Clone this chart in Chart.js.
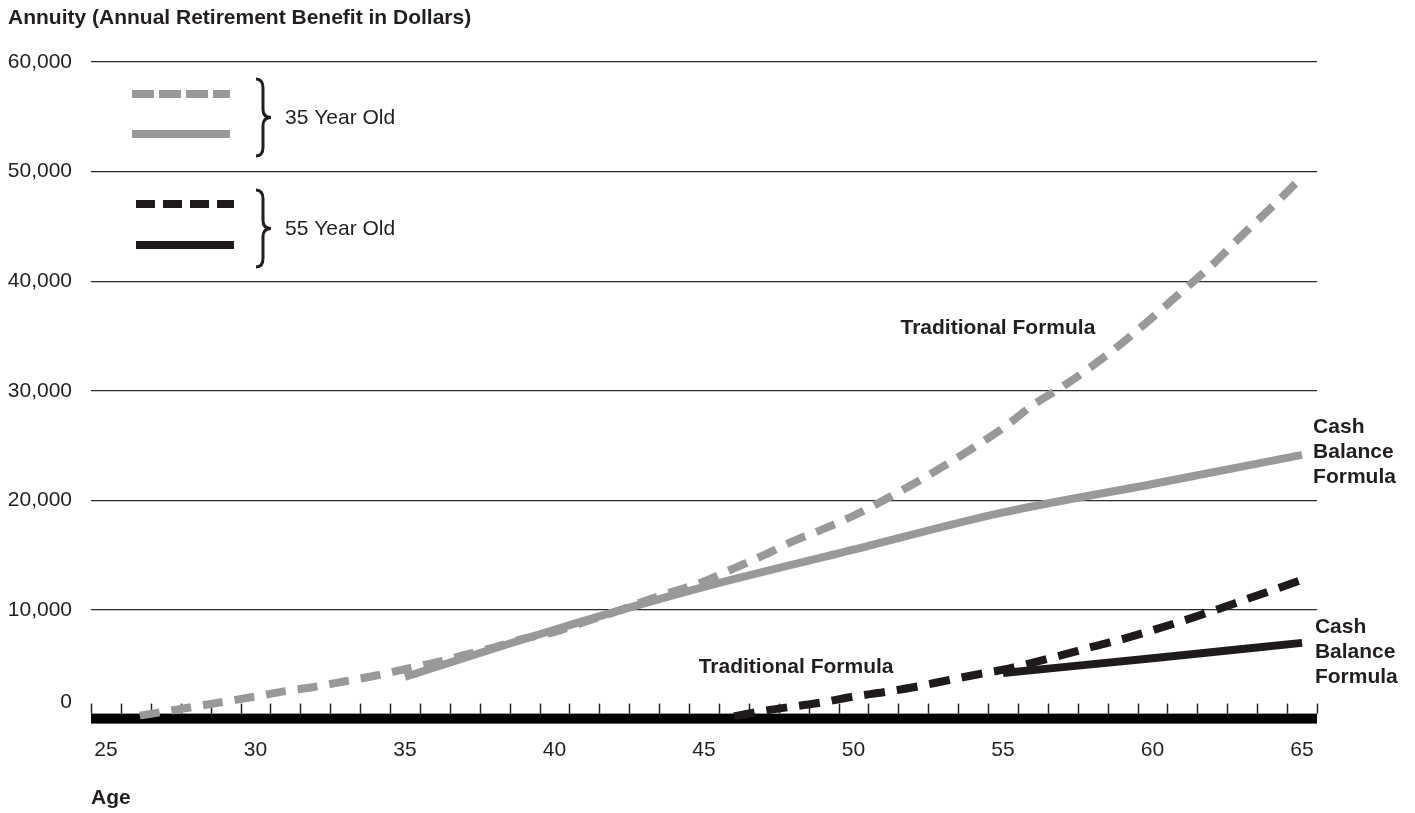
<!DOCTYPE html>
<html>
<head>
<meta charset="utf-8">
<script src="https://cdn.jsdelivr.net/npm/chart.js@4.4.0/dist/chart.umd.min.js"></script>
<style>
  html, body { margin: 0; padding: 0; background: #fff; }
  #annuityChart { display: block; }
</style>
</head>
<body>
<canvas id="annuityChart" width="1415" height="813"></canvas>
<script>
// Data
const xTickLabels = [25, 30, 35, 40, 45, 50, 55, 60, 65];
const yTickLabels = [0, 10000, 20000, 30000, 40000, 50000, 60000];

// 35 year old, traditional formula
const ages35Trad = [26, 27, 28, 29, 30, 31, 32, 33, 34, 35, 36, 37, 38, 39, 40, 41, 42, 43, 44, 45,
                    46, 47, 48, 49, 50, 51, 52, 53, 54, 55, 56, 57, 58, 59, 60, 61, 62, 63, 64, 65];
const vals35Trad = [300, 750, 1200, 1650, 2100, 2600, 3000, 3500, 4000, 4600, 5200, 5900, 6600, 7400, 8000, 8900, 9800, 10800, 11700, 12600,
                    13800, 15000, 16300, 17400, 18600, 20000, 21500, 23100, 24800, 26600, 28700, 30400, 32300, 34400, 36700, 39100, 41500, 44200, 46800, 49500];

// 35 year old, cash balance formula
const ages35Cash = [35, 40, 45, 50, 55, 60, 65];
const vals35Cash = [3900, 8200, 12100, 15500, 18900, 21500, 24150];

// 55 year old, traditional formula
const ages55Trad = [46, 47, 48, 49, 50, 51, 52, 53, 54, 55, 56, 57, 58, 59, 60, 61, 62, 63, 64, 65];
const vals55Trad = [300, 800, 1200, 1600, 2100, 2500, 2950, 3500, 4050, 4550, 5200, 5900, 6650, 7350, 8150, 9000, 9900, 10850, 11800, 12750];

// 55 year old, cash balance formula
const ages55Cash = [55, 60, 65];
const vals55Cash = [4250, 5600, 7000];

const GRAY = '#999999';
const BLACK = '#1f1b1c';
const INK = '#231f20';
const FONT = '"Liberation Sans", Arial, Helvetica, sans-serif';

function pts(xs, ys) {
    return xs.map((x, i) => ({ x: x, y: ys[i] }));
}

// Text notes placed in data units
const notes = [
    { lines: ['Traditional Formula'], age: 54.83, value: 35700, align: 'center' },
    { lines: ['Traditional Formula'], age: 48.08, value: 4800, align: 'center' },
    { lines: ['Cash', 'Balance', 'Formula'], age: 65.37, value: 26700, align: 'left' },
    { lines: ['Cash', 'Balance', 'Formula'], age: 65.43, value: 8450, align: 'left' }
];

// Baseline bar, minor ticks, title, zero label, legend and notes
const decorations = {
    id: 'decorations',
    beforeDatasetsDraw(chart) {
        const ctx = chart.ctx;
        const xs = chart.scales.x;
        const ys = chart.scales.y;
        const base = ys.getPixelForValue(0);
        const barTop = base - 6;
        ctx.save();
        ctx.fillStyle = '#000';
        ctx.fillRect(xs.left, barTop, xs.right - xs.left, 10);
        ctx.strokeStyle = INK;
        ctx.lineWidth = 1.5;
        for (let v = 24.5; v <= 65.5; v += 1) {
            const px = Math.round(xs.getPixelForValue(v)) + 0.5;
            ctx.beginPath();
            ctx.moveTo(px, barTop);
            ctx.lineTo(px, barTop - 10);
            ctx.stroke();
        }
        ctx.restore();
    },
    afterDraw(chart) {
        const ctx = chart.ctx;
        const xs = chart.scales.x;
        const ys = chart.scales.y;
        const ds = chart.data.datasets;
        ctx.save();
        ctx.fillStyle = INK;

        // axis title at top left
        ctx.font = 'bold 21px ' + FONT;
        ctx.textAlign = 'left';
        ctx.textBaseline = 'middle';
        ctx.fillText('Annuity (Annual Retirement Benefit in Dollars)', 8, 18);

        // zero label sits above the baseline bar
        ctx.font = '21px ' + FONT;
        ctx.textAlign = 'right';
        ctx.fillText('0', 72, ys.getPixelForValue(0) - 17);

        // legend
        const sample = (y, x0, x1, d) => {
            ctx.save();
            ctx.strokeStyle = d.borderColor;
            ctx.lineWidth = d.borderWidth;
            ctx.lineCap = 'butt';
            ctx.setLineDash(d.legendDash || []);
            ctx.beginPath();
            ctx.moveTo(x0, y);
            ctx.lineTo(x1, y);
            ctx.stroke();
            ctx.restore();
        };
        const brace = (yTop, yBot) => {
            const x0 = 256, xm = 263, x1 = 271;
            const yMid = (yTop + yBot) / 2;
            ctx.save();
            ctx.strokeStyle = INK;
            ctx.lineWidth = 3;
            ctx.beginPath();
            ctx.moveTo(x0, yTop);
            ctx.quadraticCurveTo(xm, yTop, xm, yTop + 9);
            ctx.lineTo(xm, yMid - 8);
            ctx.quadraticCurveTo(xm, yMid, x1, yMid);
            ctx.quadraticCurveTo(xm, yMid, xm, yMid + 8);
            ctx.lineTo(xm, yBot - 9);
            ctx.quadraticCurveTo(xm, yBot, x0, yBot);
            ctx.stroke();
            ctx.restore();
        };
        sample(94, 132, 230, ds[0]);
        sample(134, 132, 230, ds[2]);
        brace(79, 156);
        sample(204, 136, 234, ds[1]);
        sample(245, 136, 234, ds[3]);
        brace(190, 267);
        ctx.font = '21px ' + FONT;
        ctx.textAlign = 'left';
        ctx.textBaseline = 'middle';
        ctx.fillText('35 Year Old', 285, 118);
        ctx.fillText('55 Year Old', 285, 229);

        // notes
        ctx.font = 'bold 21px ' + FONT;
        notes.forEach(n => {
            const px = xs.getPixelForValue(n.age);
            const py = ys.getPixelForValue(n.value);
            ctx.textAlign = n.align;
            n.lines.forEach((line, i) => ctx.fillText(line, px, py + i * 25));
        });
        ctx.restore();
    }
};

new Chart(document.getElementById('annuityChart'), {
    type: 'line',
    data: {
        datasets: [
            {
                label: '35 Year Old - Traditional Formula',
                data: pts(ages35Trad, vals35Trad),
                borderColor: GRAY,
                borderWidth: 8,
                borderDash: [20, 12],
                borderDashOffset: -4,
                legendDash: [22, 5]
            },
            {
                label: '55 Year Old - Traditional Formula',
                data: pts(ages55Trad, vals55Trad),
                borderColor: BLACK,
                borderWidth: 8,
                borderDash: [21, 12],
                legendDash: [19, 8]
            },
            {
                label: '35 Year Old - Cash Balance Formula',
                data: pts(ages35Cash, vals35Cash),
                borderColor: GRAY,
                borderWidth: 8
            },
            {
                label: '55 Year Old - Cash Balance Formula',
                data: pts(ages55Cash, vals55Cash),
                borderColor: BLACK,
                borderWidth: 8
            }
        ]
    },
    options: {
        responsive: false,
        animation: false,
        layout: { padding: { top: 62, right: 98, bottom: 0, left: 0 } },
        elements: {
            point: { radius: 0, hoverRadius: 0 },
            line: { cubicInterpolationMode: 'monotone', borderCapStyle: 'butt', fill: false }
        },
        plugins: {
            legend: { display: false },
            tooltip: { enabled: false }
        },
        scales: {
            x: {
                type: 'linear',
                min: 24.5,
                max: 65.5,
                afterBuildTicks: s => { s.ticks = xTickLabels.map(v => ({ value: v })); },
                afterFit: s => { s.height = 93.4; },
                grid: { display: false },
                border: { display: false },
                ticks: {
                    padding: 10,
                    color: INK,
                    maxRotation: 0,
                    font: { size: 21, family: FONT }
                },
                title: {
                    display: true,
                    text: 'Age',
                    align: 'start',
                    color: INK,
                    font: { size: 21, weight: 'bold', family: FONT },
                    padding: { top: 0, bottom: 2 }
                }
            },
            y: {
                min: 0,
                max: 60000,
                afterBuildTicks: s => { s.ticks = yTickLabels.map(v => ({ value: v })); },
                afterFit: s => { s.width = 91; },
                grid: {
                    drawTicks: false,
                    lineWidth: 1.2,
                    color: c => (c.tick && c.tick.value === 0) ? 'rgba(0,0,0,0)' : '#2b2b2b'
                },
                border: { display: false },
                ticks: {
                    padding: 19,
                    color: INK,
                    font: { size: 21, family: FONT },
                    callback: v => v === 0 ? '' : v.toLocaleString('en-US')
                }
            }
        }
    },
    plugins: [decorations]
});
</script>
</body>
</html>
